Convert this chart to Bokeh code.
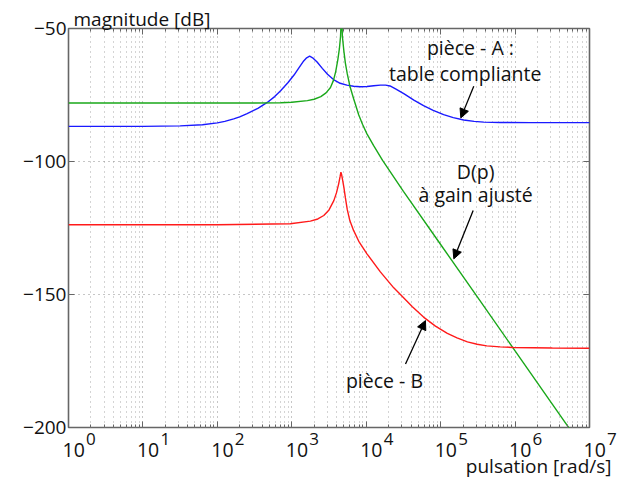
import numpy as np
from bokeh.plotting import figure
from bokeh.layouts import column
from bokeh.models import (Range1d, LinearAxis, LogAxis, FixedTicker, Label,
                          Arrow, NormalHead, CustomJSTickFormatter, ColumnDataSource)
from bokeh.core.properties import value
from bokeh.embed import file_html
from bokeh.resources import INLINE

# ---------------- data ----------------
# x values are log10(pulsation [rad/s]); y values in dB
blue_logw = [0.0, 1.0, 1.5, 1.8, 2.0, 2.1, 2.22, 2.30, 2.40, 2.55, 2.67, 2.77, 2.85,
             2.95, 3.03, 3.10, 3.16, 3.20, 3.24, 3.28, 3.34, 3.41, 3.48, 3.56, 3.65,
             3.74, 3.83, 3.92, 4.01, 4.10, 4.19, 4.26, 4.32, 4.40, 4.51, 4.64, 4.77,
             4.90, 5.04, 5.17, 5.31, 5.45, 5.58, 5.80, 6.21, 7.0]
blue_db = [-86.8, -86.8, -86.6, -86.2, -85.5, -84.9, -84.0, -83.2, -82.0, -79.9,
           -77.8, -75.6, -73.4, -70.3, -67.5, -64.6, -62.2, -61.0, -60.4, -61.0,
           -62.6, -65.0, -67.2, -69.2, -70.6, -71.3, -71.7, -71.9, -71.8, -71.5,
           -71.3, -71.3, -71.6, -72.8, -74.6, -76.9, -79.0, -80.8, -82.4, -83.5,
           -84.4, -84.9, -85.2, -85.35, -85.4, -85.4]

green_logw = [0.0, 2.0, 2.5, 2.85, 3.0, 3.21, 3.30, 3.39, 3.46, 3.52, 3.56, 3.59,
              3.62, 3.64, 3.655, 3.665, 3.668, 3.672, 3.68, 3.70, 3.72, 3.745,
              3.78, 3.83, 3.90, 3.95, 4.01, 4.10, 4.22, 4.5, 5.0, 5.5, 6.0, 6.5, 7.0]
green_db = [-78.0, -78.0, -78.0, -77.9, -77.7, -77.1, -76.6, -75.6, -74.2, -72.2,
            -69.5, -66.2, -61.5, -57.5, -53.0, -46.0, -40.0, -46.0, -53.0, -58.5,
            -63.0, -67.0, -71.6, -76.3, -82.5, -86.0, -89.6, -94.0, -99.6, -111.2,
            -131.2, -151.2, -171.2, -191.2, -211.2]

red_logw = [0.0, 2.0, 2.98, 3.25, 3.35, 3.43, 3.50, 3.565, 3.60, 3.63, 3.65, 3.66,
            3.67, 3.68, 3.70, 3.72, 3.745, 3.78, 3.83, 3.90, 4.01, 4.19, 4.37,
            4.46, 4.62, 4.77, 4.93, 5.09, 5.22, 5.36, 5.49, 5.62, 5.80, 5.98, 6.5, 7.0]
red_db = [-123.8, -123.8, -123.4, -122.4, -121.6, -120.3, -118.2, -114.7, -111.8,
          -108.4, -105.5, -104.0, -105.0, -106.5, -109.7, -113.6, -118.0, -122.2,
          -125.9, -130.0, -134.7, -141.5, -147.5, -150.0, -154.6, -158.5, -161.9,
          -164.6, -166.3, -167.8, -168.7, -169.3, -169.7, -169.9, -170.1, -170.2]

x_tick_exponents = [0, 1, 2, 3, 4, 5, 6, 7]
x_minor_mantissas = [2, 3, 4, 5, 6, 7, 8, 9]
y_ticks = [-200, -150, -100, -50]
y_tick_labels = ["\u2212200", "\u2212150", "\u2212100", "\u221250"]
x_title = "pulsation [rad/s]"
y_title = "magnitude [dB]"

# annotation texts: (text, log10 position, dB position of the text middle)
notes = [("pièce - A :", 5.40, -57.3), ("table compliante", 5.33, -67.1),
         ("D(p)", 5.47, -103.6), ("à gain ajusté", 5.47, -112.4),
         ("pièce - B", 4.245, -182.2)]
# arrows: (log10 start, dB start, log10 tip, dB tip)
arrows = [(5.445, -71.7, 5.271, -83.6), (5.437, -118.4, 5.177, -136.6),
          (4.528, -176.1, 4.796, -159.8)]

# ---------------- styling / geometry ----------------
FONT = "Open Sans"
TXT = "#111111"
AX = "#666666"
BLUE = "#1a1aff"
GREEN = "#1aa81a"
RED = "#ff1a1a"

W, H = 618, 489
FRAME_L, FRAME_R, FRAME_T, FRAME_B = 68, 589, 28, 427
X_MIN, X_MAX = 1.0, 1e7
Y_MIN, Y_MAX = -200, -50

p = figure(width=W, height=H, x_axis_type="log",
           x_range=Range1d(X_MIN, X_MAX), y_range=Range1d(Y_MIN, Y_MAX),
           output_backend="svg", toolbar_location=None,
           min_border_left=FRAME_L, min_border_right=W - FRAME_R,
           min_border_top=FRAME_T, min_border_bottom=H - FRAME_B)
p.frame_align = False
p.background_fill_color = "white"
p.border_fill_color = "white"
p.outline_line_color = AX
p.outline_line_width = 1.6

xticker = FixedTicker(ticks=[10.0 ** e for e in x_tick_exponents],
                      minor_ticks=[m * 10.0 ** e for e in x_tick_exponents[:-1]
                                   for m in x_minor_mantissas])
yticker = FixedTicker(ticks=y_ticks)
empty = CustomJSTickFormatter(code="return ''")

p.xaxis.ticker = xticker
p.xgrid.ticker = xticker
p.yaxis.ticker = yticker
p.ygrid.ticker = yticker
p.xaxis.formatter = empty
p.xaxis.major_label_text_font_size = "1px"
p.xaxis.major_label_standoff = 0
p.yaxis.major_label_overrides = dict(zip(y_ticks, y_tick_labels))

for ax in [p.xaxis[0], p.yaxis[0]]:
    ax.axis_line_color = None
    ax.major_tick_in = 6
    ax.major_tick_out = 0
    ax.minor_tick_in = 3
    ax.minor_tick_out = 0
    ax.major_tick_line_color = AX
    ax.minor_tick_line_color = AX
p.yaxis.minor_tick_line_color = None
p.yaxis.major_label_text_font = FONT
p.yaxis.major_label_text_font_size = "19px"
p.yaxis.major_label_text_color = TXT
p.yaxis.major_label_standoff = 2

top_axis = LogAxis(ticker=xticker, formatter=empty, axis_line_color=None,
                   major_tick_in=6, major_tick_out=0, minor_tick_in=3, minor_tick_out=0,
                   major_tick_line_color=AX, minor_tick_line_color=AX,
                   major_label_text_font_size="1px", major_label_standoff=0)
right_axis = LinearAxis(ticker=yticker, formatter=empty, axis_line_color=None,
                        major_tick_in=6, major_tick_out=0, minor_tick_in=0, minor_tick_out=0,
                        major_tick_line_color=AX, minor_tick_line_color=None,
                        major_label_text_font_size="1px", major_label_standoff=0)
p.add_layout(top_axis, "above")
p.add_layout(right_axis, "right")

p.xgrid.grid_line_color = "#8c8c8c"
p.xgrid.grid_line_dash = "1 4"
p.xgrid.minor_grid_line_color = "#a8a8a8"
p.xgrid.minor_grid_line_dash = "1 4"
p.ygrid.grid_line_color = "#8c8c8c"
p.ygrid.grid_line_dash = "1 4"

# y title above the frame (left aligned)
p.title.text = y_title
p.title.align = "left"
p.title.offset = 5
p.title.vertical_align = "middle"
p.title.standoff = -9
p.title.text_font = FONT
p.title.text_font_size = "19px"
p.title.text_font_style = "normal"
p.title.text_color = TXT

# ---------------- curves ----------------
p.line(10.0 ** np.array(blue_logw), blue_db, line_color=BLUE, line_width=1.4)
p.line(10.0 ** np.array(green_logw), green_db, line_color=GREEN, line_width=1.4)
p.line(10.0 ** np.array(red_logw), red_db, line_color=RED, line_width=1.4)

# ---------------- annotations inside the frame ----------------
for txt, lx, ly in notes:
    p.add_layout(Label(x=10 ** lx, y=ly, text=txt, text_align="center",
                       text_baseline="middle", text_font=FONT,
                       text_font_size="19.5px", text_color=TXT))

for x0, y0, x1, y1 in arrows:
    p.add_layout(Arrow(x_start=10 ** x0, y_start=y0, x_end=10 ** x1, y_end=y1,
                       line_color="black", line_width=1.3,
                       end=NormalHead(size=9, fill_color="black", line_color="black",
                                      line_width=1)))

# ---------------- transparent label strip over the bottom border (same x scale) ----------------
SH = H - FRAME_B
dec = (FRAME_R - FRAME_L) / np.log10(X_MAX / X_MIN)     # pixels per decade
strip = figure(width=W, height=SH, x_axis_type="log",
               x_range=Range1d(X_MIN * 10 ** (-FRAME_L / dec), X_MAX * 10 ** ((W - FRAME_R) / dec)),
               y_range=Range1d(0, SH), x_axis_location=None, y_axis_location=None,
               output_backend="svg", toolbar_location=None,
               min_border_left=0, min_border_right=0, min_border_top=0, min_border_bottom=0,
               margin=(-SH, 0, 0, 0))
strip.frame_align = False
strip.grid.visible = False
strip.outline_line_color = None
strip.background_fill_color = None
strip.border_fill_color = None

tick_x = [10.0 ** e for e in x_tick_exponents]
ten_src = ColumnDataSource(dict(x=tick_x, y=[SH - 22.1] * len(tick_x),
                                t=["10"] * len(tick_x)))
sup_src = ColumnDataSource(dict(x=tick_x, y=[SH - 11.4] * len(tick_x),
                                t=[str(e) for e in x_tick_exponents]))
strip.text(x="x", y="y", text="t", source=ten_src, x_offset=-6,
           text_align="left", text_baseline="middle",
           text_font=value(FONT), text_font_size="19.5px", text_color=TXT)
strip.text(x="x", y="y", text="t", source=sup_src, x_offset=17.5,
           text_align="left", text_baseline="middle",
           text_font=value(FONT), text_font_size="17px", text_color=TXT)
strip.text(x=[X_MAX], y=[SH - 38.6], text=[x_title], x_offset=22,
           text_align="right", text_baseline="middle",
           text_font=value(FONT), text_font_size="19px", text_color=TXT)

layout = column(p, strip, spacing=0)
open("out.html", "w").write(file_html(layout, INLINE))
